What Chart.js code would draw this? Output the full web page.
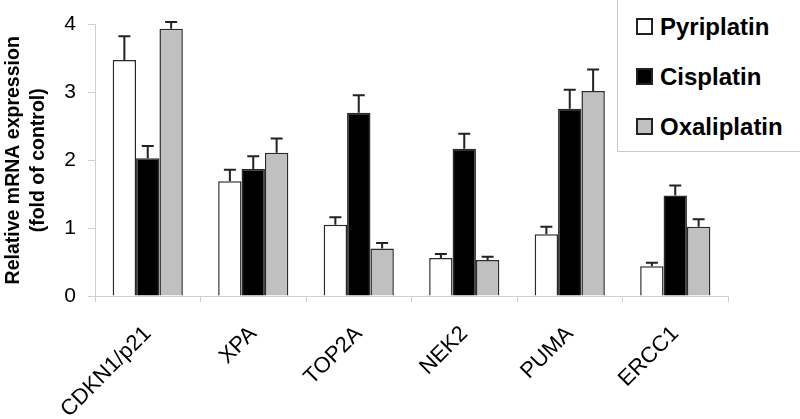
<!DOCTYPE html>
<html>
<head>
<meta charset="utf-8">
<script src="https://cdn.jsdelivr.net/npm/chart.js@4.4.1/dist/chart.umd.min.js"></script>
<style>
  html, body { margin: 0; padding: 0; background: #fff; }
  #wrap { position: relative; width: 800px; height: 419px; }
  #legend { position: absolute; left: 617px; top: 0px; width: 182px; height: 151px;
    border: 1px solid #c8c8c8; border-top: none; border-right: none; background: #fff;
    font-family: "Liberation Sans", Arial, sans-serif; font-weight: bold; font-size: 24px; color: #000; }
  .item { position: absolute; left: 18px; height: 24px; line-height: 24px; white-space: nowrap; }
  .sw { display: inline-block; width: 13px; height: 13px; border: 2px solid #222; vertical-align: middle; margin-right: 7px; position: relative; top: -2px; }
</style>
</head>
<body>
<div id="wrap">
  <canvas id="c" width="800" height="419"></canvas>
  <div id="legend"></div>
</div>
<script>
const categories = ["CDKN1/p21", "XPA", "TOP2A", "NEK2", "PUMA", "ERCC1"];
const seriesNames = ["Pyriplatin", "Cisplatin", "Oxaliplatin"];
const pyriplatin = [3.48, 1.69, 1.05, 0.56, 0.91, 0.44];
const cisplatin = [2.03, 1.87, 2.70, 2.17, 2.76, 1.48];
const oxaliplatin = [3.94, 2.11, 0.70, 0.53, 3.02, 1.02];
const pyriplatinErr = [0.35, 0.17, 0.11, 0.06, 0.11, 0.05];
const cisplatinErr = [0.18, 0.19, 0.26, 0.22, 0.28, 0.15];
const oxaliplatinErr = [0.10, 0.21, 0.08, 0.05, 0.32, 0.11];
const yTicks = [0, 1, 2, 3, 4];
const yTitle = ["Relative mRNA expression", "(fold of control)"];

const fills = ["#ffffff", "#000000", "#c0c0c0"];
const errs = [pyriplatinErr, cisplatinErr, oxaliplatinErr];

const errorBars = {
  id: 'errorBars',
  afterDatasetsDraw(chart) {
    const ctx = chart.ctx;
    const y = chart.scales.y;
    ctx.save();
    ctx.strokeStyle = '#222';
    ctx.lineWidth = 2;
    chart.data.datasets.forEach((ds, i) => {
      const meta = chart.getDatasetMeta(i);
      meta.data.forEach((bar, j) => {
        const top = y.getPixelForValue(ds.data[j] + errs[i][j]);
        ctx.beginPath();
        ctx.moveTo(bar.x, bar.y);
        ctx.lineTo(bar.x, top);
        ctx.moveTo(bar.x - 6, top);
        ctx.lineTo(bar.x + 6, top);
        ctx.stroke();
      });
    });
    ctx.restore();
  }
};

const font = "'Liberation Sans', Arial, sans-serif";
new Chart(document.getElementById('c'), {
  type: 'bar',
  data: {
    labels: categories,
    datasets: [pyriplatin, cisplatin, oxaliplatin].map((d, i) => ({
      label: seriesNames[i],
      data: d,
      backgroundColor: fills[i],
      borderColor: '#2a2a2a',
      borderWidth: 1.5,
      borderSkipped: 'bottom',
      categoryPercentage: 0.665,
      barPercentage: 1.0
    }))
  },
  options: {
    responsive: false,
    animation: false,
    layout: { padding: { left: 0, right: 72, top: 20, bottom: 0 } },
    plugins: { legend: { display: false }, tooltip: { enabled: false } },
    scales: {
      x: {
        grid: { drawOnChartArea: false, color: '#cfcfcf', tickLength: 6, offset: true },
        border: { color: '#cfcfcf' },
        ticks: { color: '#000', font: { family: font, size: 22 }, maxRotation: 45, minRotation: 45, padding: 19 },
        afterFit(s) { s.height = 123; }
      },
      y: {
        min: 0, max: 4,
        afterBuildTicks(s) { s.ticks = yTicks.map(v => ({ value: v })); },
        grid: { drawOnChartArea: false, color: '#cfcfcf', tickLength: 7 },
        border: { color: '#cfcfcf' },
        ticks: { color: '#000', font: { family: font, size: 21 }, padding: 12 },
        title: { display: true, text: yTitle, color: '#000', font: { family: font, size: 19.5, weight: 'bold', lineHeight: 1.3 }, padding: { top: 1, bottom: 0 } },
        afterFit(s) { s.width = 95; }
      }
    }
  },
  plugins: [errorBars]
});

const lg = document.getElementById('legend');
const tops = [15, 65, 115];
seriesNames.forEach((n, i) => {
  const d = document.createElement('div');
  d.className = 'item';
  d.style.top = tops[i] + 'px';
  d.innerHTML = '<span class="sw" style="background:' + fills[i] + '"></span>' + n;
  lg.appendChild(d);
});
</script>
</body>
</html>
